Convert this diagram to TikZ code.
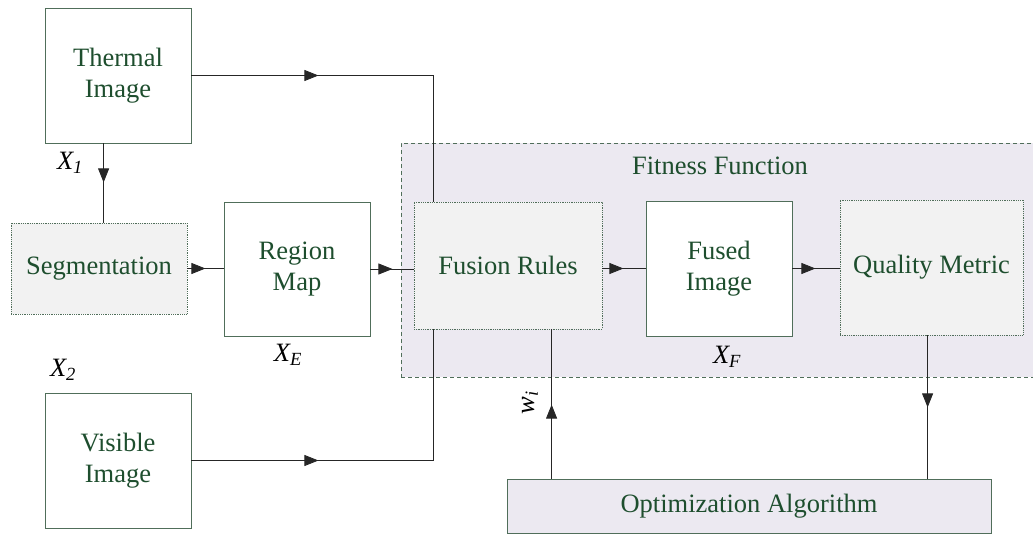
\documentclass[tikz,border=0pt]{standalone}
\usepackage{fontspec}
\setmainfont{Liberation Serif}
\usetikzlibrary{arrows.meta,decorations.markings,calc}
\definecolor{txt}{RGB}{30,78,46}
\definecolor{bord}{RGB}{80,110,90}
\definecolor{fitfill}{RGB}{236,233,241}
\definecolor{grayfill}{RGB}{242,242,242}
\begin{document}
\begin{tikzpicture}[x=1pt,y=-1pt,
 box/.style={draw=bord, line width=0.8pt, fill=white, inner sep=0pt, align=center, text=txt, font=\fontsize{26.5}{31}\selectfont},
 dbox/.style={box, fill=grayfill, densely dotted},
 optbox/.style={box, fill=fitfill},
 lbl/.style={font=\fontsize{26.5}{31}\selectfont\itshape, inner sep=0pt},
 conn/.style={draw=black!85, line width=0.8pt},
 arrowat/.style={postaction={decorate}, decoration={markings, mark=at position #1 with {\arrow{Triangle[length=14pt,width=11pt]}}}}
]
\useasboundingbox (0,0) rectangle (1033,534);
\clip (0,0) rectangle (1033,534);
% fitness function region
\node[draw=bord, line width=0.8pt, dash pattern=on 4pt off 3pt, fill=fitfill, minimum width=639pt, minimum height=234pt, inner sep=0pt] (fit) at (720.5,260) {};
\node[text=txt, font=\fontsize{26.5}{31}\selectfont, inner sep=0pt] (fittitle) at (720,166) {Fitness Function};
% boxes
\node[box, minimum width=146pt, minimum height=135pt] (thermal) at (118,75.5) {Thermal\\Image};
\node[dbox, minimum width=176pt, minimum height=91pt] (seg) at (99,268.5) {Segmentation};
\node[box, minimum width=146pt, minimum height=134pt] (region) at (297,269) {Region\\Map};
\node[dbox, minimum width=188pt, minimum height=127pt] (fusion) at (508,265.5) {Fusion Rules};
\node[box, minimum width=146pt, minimum height=135pt] (fused) at (719,268.5) {Fused\\Image};
\node[dbox, minimum width=183pt, minimum height=135pt] (quality) at (931.5,267.5) {Quality Metric};
\node[box, minimum width=146pt, minimum height=135pt] (visible) at (118,460.5) {Visible\\Image};
\node[optbox, minimum width=484pt, minimum height=54pt] (opt) at (749,506) {Optimization Algorithm};
% labels
\node[lbl] (x1) at (70,163) {X\textsubscript{1}};
\node[lbl] (x2) at (63,370) {X\textsubscript{2}};
\node[lbl] (xe) at (288,355) {X\textsubscript{E}};
\node[lbl] (xf) at (727,357) {X\textsubscript{F}};
\node[lbl, rotate=90] (wi) at (530,403) {w\textsubscript{i}};
% connectors
\coordinate (tb) at ($(thermal.south west)+(59,0)$);
\coordinate (st) at ($(seg.north west)+(93,0)$);
\coordinate (ftop) at ($(fusion.north west)+(20,0)$);
\coordinate (fbot) at ($(fusion.south west)+(20,0)$);
\coordinate (qb) at ($(quality.south west)+(88,0)$);
\coordinate (ot) at ($(opt.north west)+(45,0)$);
\draw[conn, arrowat=127pt] (thermal.east) -| (ftop);
\draw[conn, arrowat=39pt] (tb) -- (st);
\draw[conn, arrowat=18pt] (seg.east) -- (seg.east -| region.west);
\draw[conn, arrowat=22pt] (region.east) -- (region.east -| fusion.west);
\draw[conn, arrowat=127pt] (visible.east) -| (fbot);
\draw[conn, arrowat=21pt] (fusion.east |- fused.west) -- (fused.west);
\draw[conn, arrowat=23pt] (fused.east) -- (fused.east -| quality.west);
\draw[conn, arrowat=72pt] (qb) -- (qb |- opt.north);
\draw[conn, arrowat=74pt] (ot) -- (ot |- fusion.south);
\end{tikzpicture}
\end{document}
